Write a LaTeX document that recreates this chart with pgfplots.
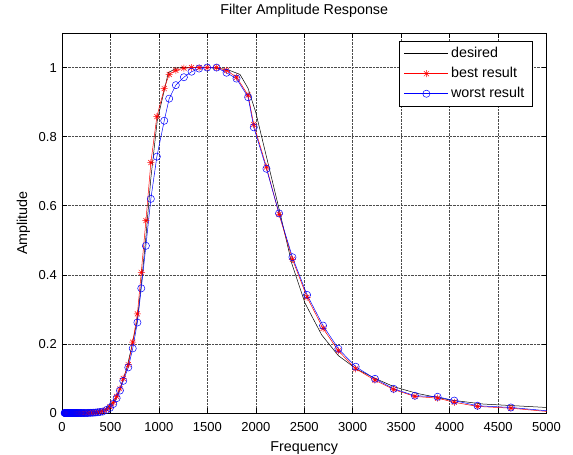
\documentclass[border=0pt]{standalone}
\usepackage{fontspec}
\setmainfont{Liberation Sans}
\usepackage{pgfplots}
\pgfplotsset{compat=1.18}
% MATLAB style '*' marker: plus and cross together
\pgfdeclareplotmark{mstar}{%
  \pgfpathmoveto{\pgfqpoint{-\pgfplotmarksize}{0pt}}\pgfpathlineto{\pgfqpoint{\pgfplotmarksize}{0pt}}%
  \pgfpathmoveto{\pgfqpoint{0pt}{-\pgfplotmarksize}}\pgfpathlineto{\pgfqpoint{0pt}{\pgfplotmarksize}}%
  \pgfpathmoveto{\pgfqpoint{-.7071\pgfplotmarksize}{-.7071\pgfplotmarksize}}\pgfpathlineto{\pgfqpoint{.7071\pgfplotmarksize}{.7071\pgfplotmarksize}}%
  \pgfpathmoveto{\pgfqpoint{-.7071\pgfplotmarksize}{.7071\pgfplotmarksize}}\pgfpathlineto{\pgfqpoint{.7071\pgfplotmarksize}{-.7071\pgfplotmarksize}}%
  \pgfusepathqstroke}
\begin{document}
\begin{tikzpicture}
\begin{axis}[
  scale only axis, width=484.5pt, height=380pt,
  xmin=0, xmax=5000, ymin=0, ymax=1.1,
  xtick={0,500,1000,1500,2000,2500,3000,3500,4000,4500,5000},
  ytick={0,0.2,0.4,0.6,0.8,1},
  scaled x ticks=false,
  /pgf/number format/1000 sep={},
  /pgf/number format/assume math mode=true,
  tick label style={font=\fontsize{13}{15}\selectfont},
  xticklabel style={anchor=base, yshift=-18.7pt},
  yticklabel style={anchor=east, inner xsep=0pt, xshift=-5pt},
  label style={font=\fontsize{14.3}{16}\selectfont},
  title style={font=\fontsize{14.3}{16}\selectfont, at={(0.5,1.0316)}, anchor=base},
  xlabel style={at={(0.5,-0.1026)}, anchor=base},
  ylabel style={at={(-0.0722,0.5)}, anchor=base},
  title={Filter Amplitude Response},
  xlabel={Frequency},
  ylabel={Amplitude},
  grid=major,
  major grid style={densely dotted, black!70, line width=0.5pt},
  tick style={black, line width=0.5pt},
  major tick length=5pt,
  axis line style={black, line width=0.5pt},
  legend image code/.code={\draw[mark repeat=2,mark phase=2,#1] plot coordinates {(0pt,0pt) (22pt,0pt) (44pt,0pt)};},
  legend cell align=left,
  legend style={at={(1,1)}, anchor=north east, xshift=-14.5pt, yshift=-8pt,
    draw=black, fill=white, line width=0.5pt, inner xsep=5pt, inner ysep=4pt, row sep=3pt,
    font=\fontsize{14.3}{16}\selectfont,
    nodes={inner xsep=2.5pt, inner ysep=2pt, text height=10pt, text depth=3pt}},
]
% desired response
\addplot[black, line width=0.5pt] coordinates {
  (0,0) (300,0) (350,0.002) (400,0.006) (450,0.012) (495,0.022) (550,0.040)
  (598,0.070) (667,0.128) (718,0.19) (778,0.27) (821,0.38) (866,0.51)
  (917,0.68) (983,0.846) (1097,0.985) (1184,0.999) (1300,1.0) (1500,1.0)
  (1700,0.995) (1837,0.98) (1920,0.94) (2000,0.87) (2250,0.579) (2370,0.434)
  (2508,0.318) (2680,0.226) (2852,0.166) (3041,0.127) (3233,0.100)
  (3427,0.076) (3660,0.057) (4000,0.038) (4344,0.026) (5000,0.016)
};
\addlegendentry{desired}
% best result
\addplot[red, line width=0.5pt, mark=mstar, mark size=3.5pt] coordinates {
  (27.5,0) (29.1,0) (30.9,0) (32.7,0) (34.6,0) (36.7,0) (38.9,0) (41.2,0)
  (43.7,0) (46.2,0) (49,0) (51.9,0) (55,0) (58.3,0) (61.7,0) (65.4,0)
  (69.3,0) (73.4,0) (77.8,0) (82.4,0) (87.3,0) (92.5,0) (98,0) (103.8,0)
  (110,0) (116.5,0) (123.5,0) (130.8,0) (138.6,0) (146.8,0) (155.6,0)
  (164.8,0) (174.6,0) (185,0) (196,0) (207.7,0) (220,0) (233.1,0)
  (246.9,0) (261.6,0) (277.2,0.0005) (293.7,0.0008) (311.1,0.001)
  (329.6,0.0015) (349.2,0.002) (370,0.003) (392,0.004)
  (419,0.005) (460,0.010) (495,0.018) (529,0.030) (564,0.048) (598,0.070)
  (632,0.100) (684,0.140) (730,0.205) (778,0.287) (818,0.407) (866,0.557)
  (917,0.725) (979,0.858) (1055,0.939) (1106,0.980) (1175,0.992)
  (1258,0.998) (1337,1.0) (1415,1.0) (1498,1.0) (1595,1.0) (1698,0.992)
  (1801,0.972) (1921,0.920) (1979,0.835) (2110,0.712) (2240,0.575)
  (2378,0.445) (2529,0.335) (2694,0.245) (2852,0.180) (3031,0.128)
  (3230,0.095) (3423,0.068) (3642,0.048) (3876,0.043) (4048,0.031)
  (4288,0.019) (4632,0.014) (5100,0.002)
};
\addlegendentry{best result}
% worst result
\addplot[blue, line width=0.5pt, mark=o, mark size=3.6pt] coordinates {
  (27.5,0) (29.1,0) (30.9,0) (32.7,0) (34.6,0) (36.7,0) (38.9,0) (41.2,0)
  (43.7,0) (46.2,0) (49,0) (51.9,0) (55,0) (58.3,0) (61.7,0) (65.4,0)
  (69.3,0) (73.4,0) (77.8,0) (82.4,0) (87.3,0) (92.5,0) (98,0) (103.8,0)
  (110,0) (116.5,0) (123.5,0) (130.8,0) (138.6,0) (146.8,0) (155.6,0)
  (164.8,0) (174.6,0) (185,0) (196,0) (207.7,0) (220,0) (233.1,0)
  (246.9,0) (261.6,0) (277.2,0.0004) (293.7,0.0006) (311.1,0.0008)
  (329.6,0.001) (349.2,0.0015) (370,0.002) (392,0.003)
  (419,0.004) (460,0.009) (495,0.015) (529,0.026) (564,0.043) (598,0.065)
  (632,0.093) (684,0.132) (730,0.187) (778,0.262) (818,0.361) (866,0.484)
  (917,0.620) (979,0.742) (1055,0.846) (1106,0.910) (1175,0.949)
  (1258,0.972) (1337,0.988) (1415,0.997) (1498,1.0) (1595,1.0) (1698,0.985)
  (1801,0.968) (1921,0.914) (1979,0.827) (2110,0.707) (2240,0.578)
  (2378,0.451) (2529,0.342) (2694,0.253) (2852,0.186) (3031,0.134)
  (3230,0.099) (3423,0.070) (3642,0.050) (3876,0.047) (4048,0.036)
  (4288,0.021) (4632,0.016) (5100,0.004)
};
\addlegendentry{worst result}
\end{axis}
\pgfresetboundingbox
\path[use as bounding box] ([shift={(-62pt,-42pt)}]current axis.south west) rectangle ([shift={(26.5pt,33pt)}]current axis.north east);
\end{tikzpicture}
\end{document}
